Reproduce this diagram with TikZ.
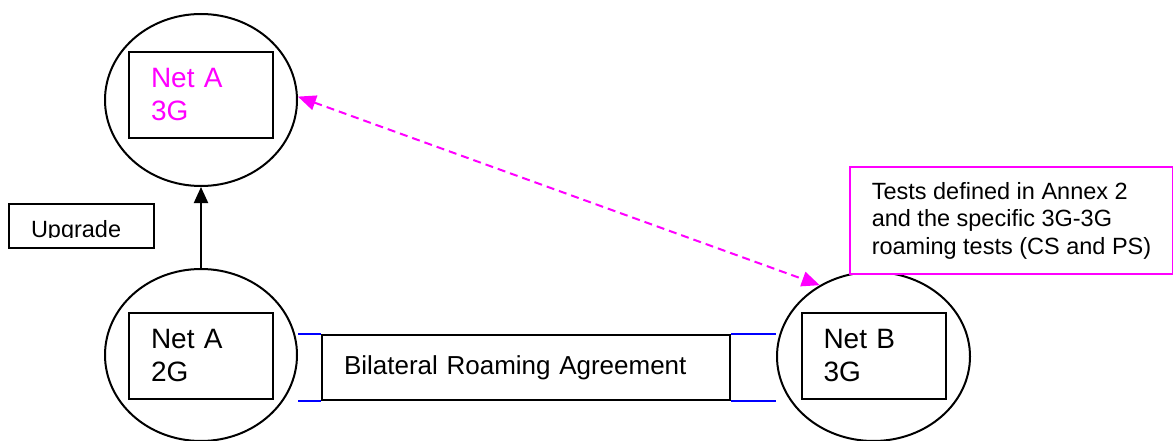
\documentclass[tikz,border=0pt]{standalone}
\usepackage{fontspec}
\setmainfont{Liberation Sans}
\usetikzlibrary{shapes.geometric,arrows.meta}

\definecolor{netpink}{RGB}{255,0,255}
\definecolor{linkblue}{RGB}{0,0,255}

\tikzset{every picture/.style={line width=2pt}}
\tikzset{
  netring/.style={draw, ellipse, inner sep=0pt, minimum width=192pt, minimum height=172pt},
  netbox/.style={draw, fill=white, align=left, text width=100pt, inner xsep=22pt, inner ysep=0pt,
    minimum height=86pt, font=\fontsize{28}{33}\selectfont},
  labelbox/.style={draw, fill=white, anchor=north west, align=left},
  tip/.style={-{Triangle[length=16pt,width=14pt]}}
}

\begin{document}
\begin{tikzpicture}[x=1pt,y=1pt,yscale=-1,xscale=1]
\useasboundingbox (0,0) rectangle (1173,441);

% Text Node
\node[netring] (ringAthree) at (201,100) {};
\node[netbox, text=netpink] (netAthree) at (201,95) {Net A\\3G};
% Text Node
\node[netring] (ringAtwo) at (201,355) {};
\node[netbox] (netAtwo) at (201,355.5) {Net A\\2G};
% Text Node
\node[netring, minimum width=193pt, minimum height=169pt] (ringB) at (873.5,356.5) {};
\node[netbox] (netB) at (873.5,355.5) {Net B\\3G};

% Text Node
\node[labelbox, inner sep=0pt, minimum width=145pt, minimum height=44pt] (upgrade) at (8,203) {};
\begin{scope}
\clip (upgrade.north west) rectangle (153,237.5);
\node[anchor=base west, inner sep=0pt, font=\fontsize{23.5}{27}\selectfont] (upgradetext) at (30,237) {Upgrade};
\end{scope}

% Text Node
\node[labelbox, minimum width=408pt, minimum height=65pt, text width=364pt, inner xsep=22pt,
  font=\fontsize{26}{30}\selectfont] (agreement) at (321,334) {Bilateral Roaming Agreement};
% Text Node
\node[labelbox, draw=netpink, inner xsep=21pt, minimum width=323pt, minimum height=107pt,
  font=\fontsize{23.5}{27.5}\selectfont] (tests) at (849,166)
  {Tests defined in Annex 2\\and the specific 3G-3G\\roaming tests (CS and PS)};

% Connection
\draw[linkblue] (ringAtwo.east |- agreement.north) -- (agreement.north west)
  (ringAtwo.east |- agreement.south) -- (agreement.south west);
\draw[linkblue] (agreement.north east) -- (ringB.west |- agreement.north)
  (agreement.south east) -- (ringB.west |- agreement.south);
% Connection
\draw[tip] (ringAtwo.north) -- (ringAthree.south);
% Connection
\draw[netpink, dash pattern=on 8pt off 5pt, {Triangle[length=18pt,width=15pt]}-{Triangle[length=18pt,width=15pt]}]
  (ringAthree.2) -- (ringB.127);

\end{tikzpicture}
\end{document}
